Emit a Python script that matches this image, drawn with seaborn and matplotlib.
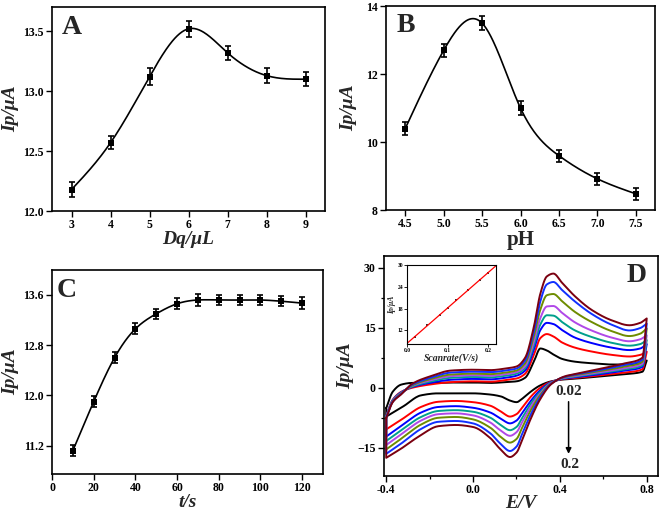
import numpy as np
import matplotlib
matplotlib.use("Agg")
import matplotlib.pyplot as plt
import seaborn as sns
from matplotlib.ticker import AutoMinorLocator

# ---- panel A: drop volume
dq_ul = [3, 4, 5, 6, 7, 8, 9]
ip_dq = [12.18, 12.57, 13.12, 13.52, 13.32, 13.13, 13.10]
err_dq = [0.06, 0.055, 0.07, 0.065, 0.06, 0.06, 0.06]

# ---- panel B: pH
ph = [4.5, 5.0, 5.5, 6.0, 6.5, 7.0, 7.5]
ip_ph = [10.4, 12.7, 13.5, 11.0, 9.6, 8.92, 8.48]
err_ph = [0.2, 0.2, 0.2, 0.2, 0.18, 0.18, 0.17]

# ---- panel C: accumulation time
t_s = [10, 20, 30, 40, 50, 60, 70, 80, 90, 100, 110, 120]
ip_t = [11.12, 11.90, 12.60, 13.06, 13.30, 13.46, 13.52, 13.52, 13.52, 13.52, 13.50, 13.47]
err_t = [0.09, 0.09, 0.09, 0.09, 0.08, 0.09, 0.09, 0.08, 0.08, 0.08, 0.08, 0.09]

# ---- panel D: CVs at different scan rates
scan_rates = [0.02, 0.05, 0.08, 0.10, 0.12, 0.15, 0.18, 0.20]
ipa_inset = [10.2, 13.4, 16.3, 18.1, 20.3, 23.1, 25.9, 27.9]
cv_colors = ["#000000", "#ff0000", "#0000ff", "#00a08c",
             "#b048e8", "#6e8c00", "#1030ff", "#7a0010"]

# forward (anodic) sweep
e_fwd = [-0.40, -0.37, -0.33, -0.28, -0.20, -0.10, 0.00, 0.08, 0.15, 0.20, 0.24,
         0.28, 0.31, 0.34, 0.37, 0.41, 0.47, 0.55, 0.64, 0.72, 0.77, 0.80]
cv_fwd = [
    [-5.1, -1.0, 0.8, 1.2, 1.2, 1.3, 1.3, 1.2, 1.4, 1.6, 2.5, 6.5, 9.8, 9.3, 8.3, 7.2, 6.5, 6.1, 5.8, 5.8, 6.1, 6.8],
    [-7.0, -3.0, -1.0, 0.0, 0.8, 1.4, 1.6, 1.5, 1.9, 2.3, 3.5, 8.2, 12.4, 13.4, 12.8, 11.3, 10.0, 9.0, 8.2, 7.8, 8.2, 9.0],
    [-7.1, -3.1, -1.1, 0.2, 1.2, 2.0, 2.2, 2.1, 2.5, 3.0, 4.3, 9.5, 14.4, 16.2, 15.9, 14.4, 12.5, 11.1, 10.0, 9.4, 9.8, 10.9],
    [-7.2, -3.2, -1.2, 0.3, 1.5, 2.5, 2.7, 2.6, 3.0, 3.5, 4.9, 10.5, 15.8, 18.1, 18.0, 16.4, 14.3, 12.6, 11.2, 10.5, 10.9, 11.9],
    [-7.3, -3.3, -1.3, 0.5, 1.8, 2.9, 3.1, 3.0, 3.4, 3.9, 5.4, 11.5, 17.4, 20.3, 20.4, 18.7, 16.3, 14.2, 12.5, 11.6, 12.1, 13.1],
    [-7.4, -3.4, -1.4, 0.6, 2.1, 3.3, 3.5, 3.4, 3.8, 4.3, 6.1, 12.8, 19.5, 23.1, 23.4, 21.6, 18.9, 16.3, 14.1, 12.9, 13.5, 14.8],
    [-7.5, -3.5, -1.5, 0.8, 2.4, 3.8, 4.0, 3.9, 4.3, 4.8, 6.8, 14.0, 21.6, 25.8, 26.4, 24.4, 21.5, 18.3, 15.7, 14.3, 14.9, 16.0],
    [-7.6, -3.6, -1.6, 1.0, 2.8, 4.3, 4.5, 4.4, 4.8, 5.3, 7.5, 15.2, 23.5, 27.8, 28.5, 26.2, 22.8, 19.3, 16.8, 15.6, 16.2, 17.3],
]

# reverse (cathodic) sweep
e_rev = [0.80, 0.78, 0.70, 0.60, 0.50, 0.42, 0.36, 0.31, 0.27, 0.23, 0.20,
         0.17, 0.13, 0.08, 0.00, -0.08, -0.16, -0.24, -0.32, -0.40]
cv_rev = [
    [6.8, 4.0, 3.4, 2.9, 2.4, 2.1, 1.6, 0.6, -0.8, -2.6, -3.6, -3.2, -2.2, -1.7, -1.4, -1.4, -1.4, -1.9, -4.6, -7.2],
    [9.0, 4.6, 3.8, 3.2, 2.6, 2.2, 1.5, 0.0, -2.0, -4.7, -6.6, -7.2, -6.0, -4.5, -3.6, -3.3, -3.5, -4.8, -7.6, -10.4],
    [10.9, 5.2, 4.3, 3.5, 2.8, 2.3, 1.4, -0.6, -3.0, -6.0, -8.2, -8.9, -7.8, -6.2, -5.0, -4.6, -4.8, -6.2, -9.1, -12.2],
    [11.9, 5.6, 4.6, 3.8, 3.0, 2.4, 1.3, -1.0, -3.7, -7.2, -9.8, -10.6, -9.4, -7.5, -6.0, -5.6, -5.8, -7.3, -10.2, -13.3],
    [13.1, 6.0, 4.9, 4.0, 3.2, 2.5, 1.2, -1.4, -4.4, -8.2, -11.1, -12.0, -10.8, -8.7, -6.9, -6.4, -6.6, -8.2, -11.2, -14.3],
    [14.8, 6.5, 5.3, 4.3, 3.4, 2.6, 1.1, -1.8, -5.2, -9.5, -12.8, -13.7, -12.4, -10.0, -7.9, -7.3, -7.5, -9.2, -12.3, -15.4],
    [16.0, 7.0, 5.7, 4.6, 3.6, 2.7, 1.0, -2.3, -6.2, -11.0, -14.7, -15.8, -14.2, -11.4, -8.9, -8.3, -8.5, -10.3, -13.5, -16.5],
    [17.3, 7.5, 6.1, 4.9, 3.8, 2.8, 0.9, -2.8, -7.2, -12.5, -16.2, -17.3, -15.6, -12.6, -9.8, -9.3, -9.6, -11.8, -14.8, -17.5],
]


def spline(x, y, n=300):
    # natural cubic spline, like Origin's "spline" connect
    x = np.asarray(x, float)
    y = np.asarray(y, float)
    h = np.diff(x)
    m = len(x)
    A = np.zeros((m, m))
    r = np.zeros(m)
    A[0, 0] = A[-1, -1] = 1
    for i in range(1, m - 1):
        A[i, i - 1] = h[i - 1]
        A[i, i] = 2 * (h[i - 1] + h[i])
        A[i, i + 1] = h[i]
        r[i] = 3 * ((y[i + 1] - y[i]) / h[i] - (y[i] - y[i - 1]) / h[i - 1])
    c = np.linalg.solve(A, r)
    b = (y[1:] - y[:-1]) / h - h * (2 * c[:-1] + c[1:]) / 3
    d = (c[1:] - c[:-1]) / (3 * h)
    xs = np.linspace(x[0], x[-1], n)
    k = np.clip(np.searchsorted(x, xs) - 1, 0, m - 2)
    t = xs - x[k]
    return xs, y[k] + b[k] * t + c[k] * t ** 2 + d[k] * t ** 3


def pchip(x, y, per=14):
    # monotone cubic between read points (no overshoot on steep parts)
    x = np.asarray(x, float)
    y = np.asarray(y, float)
    flip = x[0] > x[-1]
    if flip:
        x, y = x[::-1], y[::-1]
    h = np.diff(x)
    delta = np.diff(y) / h
    d = np.zeros_like(y)
    for k in range(1, len(x) - 1):
        if delta[k - 1] * delta[k] > 0:
            w1 = 2 * h[k] + h[k - 1]
            w2 = h[k] + 2 * h[k - 1]
            d[k] = (w1 + w2) / (w1 / delta[k - 1] + w2 / delta[k])
    d[0], d[-1] = delta[0], delta[-1]
    xs, ys = [], []
    for k in range(len(x) - 1):
        t = np.linspace(0, 1, per, endpoint=(k == len(x) - 2))
        h00 = 2 * t**3 - 3 * t**2 + 1
        h10 = t**3 - 2 * t**2 + t
        h01 = -2 * t**3 + 3 * t**2
        h11 = t**3 - t**2
        xs.append(x[k] + t * h[k])
        ys.append(h00 * y[k] + h10 * h[k] * d[k] + h01 * y[k + 1] + h11 * h[k] * d[k + 1])
    xs, ys = np.concatenate(xs), np.concatenate(ys)
    if flip:
        xs, ys = xs[::-1], ys[::-1]
    return xs, ys


sns.set_theme(style="ticks")
plt.rcParams["font.family"] = ["Liberation Serif", "DejaVu Serif"]
plt.rcParams["font.weight"] = "bold"
plt.rcParams["axes.labelweight"] = "bold"
plt.rcParams["axes.linewidth"] = 1.2
plt.rcParams["xtick.major.width"] = 1.0
plt.rcParams["ytick.major.width"] = 1.0
plt.rcParams["xtick.major.size"] = 4
plt.rcParams["ytick.major.size"] = 4
plt.rcParams["xtick.labelsize"] = 8.5
plt.rcParams["ytick.labelsize"] = 8.5
plt.rcParams["xtick.color"] = "black"
plt.rcParams["ytick.color"] = "black"
plt.rcParams["axes.edgecolor"] = "black"

fig = plt.figure(figsize=(6.61, 5.15), dpi=100)
axA = fig.add_axes([0.0787, 0.590, 0.413, 0.396])
axB = fig.add_axes([0.584, 0.592, 0.407, 0.396])
axC = fig.add_axes([0.0787, 0.080, 0.410, 0.396])
axD = fig.add_axes([0.581, 0.076, 0.4145, 0.427])

lab = dict(fontsize=14, fontweight="bold", fontstyle="italic")
letter = dict(fontsize=20, fontweight="bold")


def point_panel(ax, x, y, err, smooth=True):
    if smooth:
        xs, ys = spline(x, y)
        sns.lineplot(x=xs, y=ys, ax=ax, color="black", lw=1.2,
                     estimator=None, sort=False)
    ax.errorbar(x, y, yerr=err, fmt="none", ecolor="black",
                elinewidth=1.2, capsize=2.5, capthick=1.2)
    sns.scatterplot(x=x, y=y, ax=ax, marker="s", color="black",
                    s=16, edgecolor="black", linewidth=0, zorder=5)
    for s in ax.spines.values():
        s.set_visible(True)
    ax.tick_params(top=False, right=False, direction="out", pad=2)


# ---- A
point_panel(axA, dq_ul, ip_dq, err_dq)
axA.set_xlim(2.5, 9.5)
axA.set_ylim(12.0, 13.7)
axA.set_xticks(dq_ul)
axA.set_yticks([12.0, 12.5, 13.0, 13.5])
axA.set_yticklabels(["12.0", "12.5", "13.0", "13.5"])
axA.set_xlabel("Dq/μL", labelpad=0, **lab)
axA.set_ylabel("Ip/μA", labelpad=3, **lab)
axA.text(0.073, 0.90, "A", transform=axA.transAxes, ha="center", va="center", **letter)

# ---- B
point_panel(axB, ph, ip_ph, err_ph)
axB.set_xlim(4.25, 7.75)
axB.set_ylim(8, 14)
axB.set_xticks(ph)
axB.set_xticklabels([f"{v:.1f}" for v in ph])
axB.set_yticks([8, 10, 12, 14])
axB.set_xlabel("pH", labelpad=0, fontsize=15, fontweight="bold")
axB.set_ylabel("Ip/μA", labelpad=6, **lab)
axB.text(0.074, 0.905, "B", transform=axB.transAxes, ha="center", va="center", **letter)

# ---- C
point_panel(axC, t_s, ip_t, err_t)
axC.set_xlim(0, 130)
axC.set_ylim(10.75, 14.0)
axC.set_xticks([0, 20, 40, 60, 80, 100, 120])
axC.set_yticks([11.2, 12.0, 12.8, 13.6])
axC.set_yticklabels(["11.2", "12.0", "12.8", "13.6"])
axC.set_xlabel("t/s", labelpad=0, **lab)
axC.set_ylabel("Ip/μA", labelpad=3, **lab)
axC.text(0.054, 0.90, "C", transform=axC.transAxes, ha="center", va="center", **letter)

# ---- D
for row_f, row_r, col in zip(cv_fwd, cv_rev, cv_colors):
    xf, yf = pchip(e_fwd, row_f)
    xr, yr = pchip(e_rev, row_r)
    xs = np.concatenate([xf, xr, xf[:1]])
    ys = np.concatenate([yf, yr, yf[:1]])
    sns.lineplot(x=xs, y=ys, ax=axD, color=col, lw=1.4,
                 estimator=None, sort=False)
axD.set_xlim(-0.41, 0.852)
axD.set_ylim(-22.0, 32.9)
axD.set_xticks([-0.4, 0.0, 0.4, 0.8])
axD.set_xticklabels(["-0.4", "0.0", "0.4", "0.8"])
axD.set_yticks([-15, 0, 15, 30])
axD.xaxis.set_minor_locator(AutoMinorLocator(2))
axD.yaxis.set_minor_locator(AutoMinorLocator(2))
axD.tick_params(which="minor", length=2.5, width=0.9, top=False, right=False)
axD.tick_params(top=False, right=False, direction="out", pad=2)
for s in axD.spines.values():
    s.set_visible(True)
axD.set_xlabel("E/V", labelpad=-1, **lab)
axD.set_ylabel("Ip/μA", labelpad=2, **lab)
axD.text(0.923, 0.913, "D", transform=axD.transAxes, ha="center", va="center", **letter)
axD.text(0.44, -0.9, "0.02", ha="center", va="center", fontsize=11, fontweight="bold")
axD.text(0.447, -19.2, "0.2", ha="center", va="center", fontsize=11, fontweight="bold")
axD.annotate("", xy=(0.44, -17.2), xytext=(0.44, -2.8),
             arrowprops=dict(arrowstyle="-|>", color="black", lw=1.1, mutation_scale=8))

# ---- inset: peak current vs scan rate
axI = fig.add_axes([0.616, 0.332, 0.1346, 0.153])
axI.set_xlim(0, 0.22)
axI.set_ylim(8.2, 30)
sns.regplot(x=np.array(scan_rates), y=np.array(ipa_inset), ax=axI, ci=None,
            truncate=False, marker="s",
            scatter_kws=dict(color="black", s=3, linewidths=0),
            line_kws=dict(color="red", lw=0.9))
axI.set_xlim(0, 0.22)
axI.set_ylim(8.2, 30)
axI.set_xticks([0.0, 0.1, 0.2])
axI.set_xticklabels(["0.0", "0.1", "0.2"])
axI.set_yticks([12, 18, 24, 30])
axI.tick_params(labelsize=4, length=2, width=0.6, pad=1, top=False, right=False)
for s in axI.spines.values():
    s.set_visible(True)
    s.set_linewidth(0.8)
axI.set_xlabel("Scanrate(V/s)", fontsize=7, fontweight="bold", fontstyle="italic", labelpad=0)
axI.set_ylabel("Ip/μA", fontsize=5.5, fontweight="bold", fontstyle="italic", labelpad=1)

fig.savefig("out.png", dpi=100)
